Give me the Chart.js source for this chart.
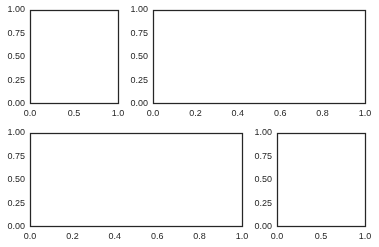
<!DOCTYPE html>
<html>
<head>
<meta charset="utf-8">
<script src="https://cdn.jsdelivr.net/npm/chart.js@4"></script>
<style>
  html, body { margin: 0; padding: 0; background: #ffffff; }
  body { width: 379px; height: 247px; position: relative; overflow: hidden; }
  canvas { position: absolute; }
</style>
</head>
<body>
<canvas id="ax1"></canvas>
<canvas id="ax2"></canvas>
<canvas id="ax3"></canvas>
<canvas id="ax4"></canvas>
<script>
// 刻度数据
const yTicks = [0, 0.25, 0.5, 0.75, 1.0];
const xTicksNarrow = [0, 0.5, 1.0];
const xTicksWide = [0, 0.2, 0.4, 0.6, 0.8, 1.0];
const emptySeries = [];

const INK = '#262626';
const FONT = { family: '"Liberation Sans", Arial, sans-serif', size: 9 };

// 坐标轴外框（四条边）
const spinePlugin = {
  id: 'spines',
  afterDraw(chart) {
    const { ctx, chartArea: a } = chart;
    ctx.save();
    ctx.strokeStyle = INK;
    ctx.lineWidth = 1.25;
    ctx.strokeRect(a.left + 0.5, a.top + 0.5, a.right - a.left, a.bottom - a.top - 1);
    ctx.restore();
  }
};

const PAD_L = 30, PAD_T = 8, PAD_R = 12, PAD_B = 20;

/**
 * 渲染一个空坐标轴
 */
function renderAxes(canvasId, left, top, w, h, xTicks) {
  const el = document.getElementById(canvasId);
  el.width = w + PAD_L + PAD_R;
  el.height = h + PAD_T + PAD_B;
  el.style.left = (left - PAD_L) + 'px';
  el.style.top = (top - PAD_T) + 'px';

  const fixTicks = (vals) => (scale) => {
    scale.ticks = vals.map(v => ({ value: v }));
  };
  const noPad = (size, key) => (scale) => {
    scale[key] = size;
    scale.paddingLeft = 0; scale.paddingRight = 0;
    scale.paddingTop = 0; scale.paddingBottom = 0;
  };

  return new Chart(el, {
    type: 'scatter',
    data: { datasets: [{ data: emptySeries }] },
    options: {
      responsive: false,
      animation: false,
      events: [],
      layout: { padding: { left: 0, top: PAD_T, right: PAD_R, bottom: 0 } },
      plugins: { legend: { display: false }, tooltip: { enabled: false } },
      scales: {
        x: {
          type: 'linear', min: 0, max: 1,
          grid: { display: false, drawTicks: false },
          border: { display: false },
          afterBuildTicks: fixTicks(xTicks),
          afterFit: noPad(PAD_B, 'height'),
          ticks: {
            color: INK, font: FONT, padding: 4, maxRotation: 0, autoSkip: false,
            callback: (v) => Number(v).toFixed(1)
          }
        },
        y: {
          type: 'linear', min: 0, max: 1,
          grid: { display: false, drawTicks: false },
          border: { display: false },
          afterBuildTicks: fixTicks(yTicks),
          afterFit: noPad(PAD_L, 'width'),
          ticks: {
            color: INK, font: FONT, padding: 5, autoSkip: false,
            callback: (v) => Number(v).toFixed(2)
          }
        }
      }
    },
    plugins: [spinePlugin]
  });
}

renderAxes('ax1', 30, 10, 88, 94, xTicksNarrow);
renderAxes('ax2', 153, 10, 212, 94, xTicksWide);
renderAxes('ax3', 30, 133, 212, 94, xTicksWide);
renderAxes('ax4', 277, 133, 88, 94, xTicksNarrow);
</script>
</body>
</html>
